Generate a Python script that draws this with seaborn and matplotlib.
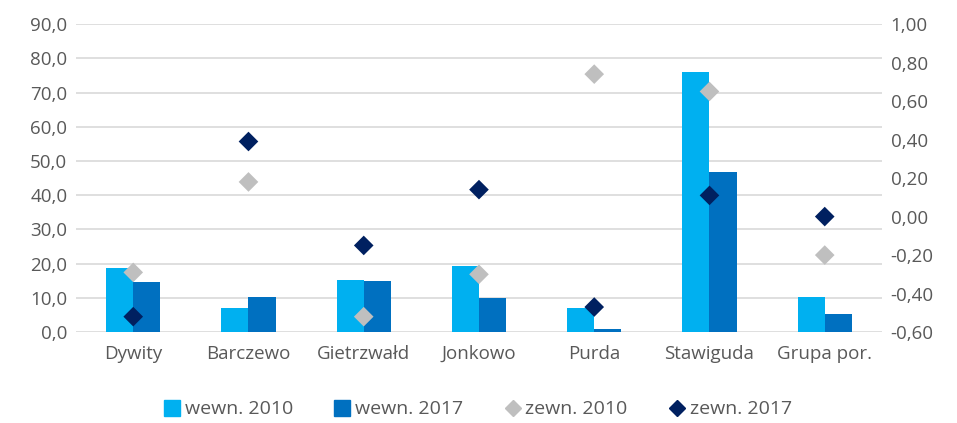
import matplotlib.pyplot as plt
import matplotlib.lines as mlines
import numpy as np
import pandas as pd
import seaborn as sns
from matplotlib.ticker import FuncFormatter

categories = ["Dywity", "Barczewo", "Gietrzwałd", "Jonkowo", "Purda", "Stawiguda", "Grupa por."]
wewn_2010 = [18.7, 7.0, 15.1, 19.3, 7.0, 76.0, 10.1]
wewn_2017 = [14.7, 10.3, 14.9, 9.9, 0.8, 46.8, 5.3]
zewn_2010 = [-0.29, 0.18, -0.52, -0.30, 0.74, 0.65, -0.20]
zewn_2017 = [-0.52, 0.39, -0.15, 0.14, -0.47, 0.11, 0.00]

bar_colors = {"wewn. 2010": "#00B0F0", "wewn. 2017": "#0070C0"}
dot_colors = {"zewn. 2010": "#BFBFBF", "zewn. 2017": "#002060"}
text_color = "#595959"

sns.set_theme(style="white")
plt.rcParams["font.family"] = ["Open Sans", "DejaVu Sans"]

bars = pd.DataFrame({
    "cat": categories * 2,
    "val": wewn_2010 + wewn_2017,
    "series": ["wewn. 2010"] * len(categories) + ["wewn. 2017"] * len(categories),
})
dots = pd.DataFrame({
    "cat": categories * 2,
    "val": zewn_2010 + zewn_2017,
    "series": ["zewn. 2010"] * len(categories) + ["zewn. 2017"] * len(categories),
})

fig = plt.figure(figsize=(9.57, 4.23), dpi=100)
ax = fig.add_axes([0.079, 0.215, 0.843, 0.728])

sns.barplot(data=bars, x="cat", y="val", hue="series", palette=bar_colors,
            width=0.47, gap=0, saturation=1, linewidth=0, ax=ax, legend=False)
ax.set_ylim(0, 90)
ax.set_yticks(np.arange(0, 91, 10))
ax.yaxis.set_major_formatter(FuncFormatter(lambda v, p: f"{v:.1f}".replace(".", ",")))
ax.grid(axis="y", color="#D9D9D9", linewidth=1.2)
ax.set_axisbelow(True)
ax.set_xlabel("")
ax.set_ylabel("")

ax2 = ax.twinx()
sns.stripplot(data=dots, x="cat", y="val", hue="series", palette=dot_colors,
              jitter=False, dodge=False, marker="D", size=10, linewidth=0,
              ax=ax2, legend=False, zorder=5)
ax2.set_ylim(-0.6, 1.0)
ax2.set_yticks(np.arange(-0.6, 1.01, 0.2))
ax2.yaxis.set_major_formatter(FuncFormatter(lambda v, p: f"{v:.2f}".replace(".", ",").replace("-0,00", "0,00")))
ax2.set_ylabel("")
ax.set_xlim(-0.5, len(categories) - 0.5)

for a in (ax, ax2):
    for s in a.spines.values():
        s.set_visible(False)
    a.tick_params(length=0, labelsize=13.5, colors=text_color, pad=6)
ax.tick_params(axis="x", pad=9)

handles = [
    mlines.Line2D([], [], marker="s", linestyle="", markersize=11, color=bar_colors["wewn. 2010"], label="wewn. 2010"),
    mlines.Line2D([], [], marker="s", linestyle="", markersize=11, color=bar_colors["wewn. 2017"], label="wewn. 2017"),
    mlines.Line2D([], [], marker="D", linestyle="", markersize=8, color=dot_colors["zewn. 2010"], label="zewn. 2010"),
    mlines.Line2D([], [], marker="D", linestyle="", markersize=8, color=dot_colors["zewn. 2017"], label="zewn. 2017"),
]
leg = fig.legend(handles=handles, loc="center", bbox_to_anchor=(0.5, 0.032), ncol=4,
                 frameon=False, fontsize=14, handlelength=0.7, handletextpad=0.3,
                 columnspacing=2.2)
for t in leg.get_texts():
    t.set_color(text_color)

fig.savefig("out.png", dpi=100)
